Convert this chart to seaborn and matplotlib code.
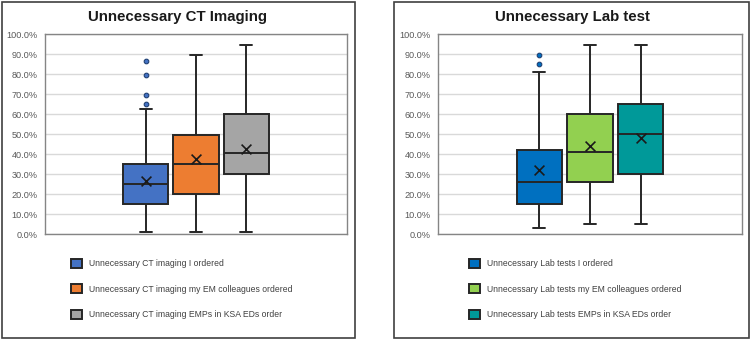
import numpy as np
import pandas as pd
import matplotlib
matplotlib.use("Agg")
import matplotlib.pyplot as plt
import seaborn as sns
from matplotlib.patches import Rectangle
from matplotlib.ticker import FuncFormatter

# ---------------- data (percent) ----------------
ct_title = "Unnecessary CT Imaging"
ct_labels = ["Unnecessary CT imaging I ordered",
             "Unnecessary CT imaging my EM colleagues ordered",
             "Unnecessary CT imaging EMPs in KSA EDs order"]
ct_min = [1, 1, 1]
ct_q1 = [15, 20, 30]
ct_median = [25, 35, 40.3]
ct_q3 = [35, 49.7, 59.8]
ct_max = [62.7, 89.5, 94.7]
ct_mean = [26.6, 37.5, 42.6]
ct_outliers = [[65, 69.5, 79.7, 86.6], [], []]
ct_colors = ["#4472C4", "#ED7D31", "#A5A5A5"]

lab_title = "Unnecessary Lab test"
lab_labels = ["Unnecessary Lab tests I ordered",
              "Unnecessary Lab tests my EM colleagues ordered",
              "Unnecessary Lab tests EMPs in KSA EDs order"]
lab_min = [2.8, 5, 5]
lab_q1 = [14.8, 26.2, 30]
lab_median = [26.2, 41.2, 50]
lab_q3 = [41.8, 60, 65.2]
lab_max = [81, 94.7, 94.7]
lab_mean = [31.8, 44.1, 48]
lab_outliers = [[84.8, 89.6], [], []]
lab_colors = ["#0070C0", "#92D050", "#009999"]

yticks = [0, 10, 20, 30, 40, 50, 60, 70, 80, 90, 100]

# ---------------- style ----------------
sns.set_style("white")
plt.rcParams["font.family"] = ["Liberation Sans", "DejaVu Sans"]

W, H = 750, 340
fig = plt.figure(figsize=(W / 100, H / 100), dpi=100)

BOX_W = 0.5
LINE = "#262626"


def panel(ax_rect, title, title_x, labels, mins, q1s, meds, q3s, maxs,
          means, outliers, colors, leg_x, frame):
    ax = fig.add_axes(ax_rect)
    rows = []
    for lab, a, b, c, d, e in zip(labels, mins, q1s, meds, q3s, maxs):
        for v in (a, b, c, d, e):
            rows.append({"grp": "", "series": lab, "value": v})
    df = pd.DataFrame(rows)
    sns.boxplot(data=df, x="grp", y="value", hue="series", hue_order=labels,
                palette=colors, saturation=1, width=BOX_W, gap=0.1,
                whis=(0, 100), showfliers=False, linecolor=LINE,
                linewidth=1.4, capwidths=0.04, ax=ax)
    n = len(labels)
    offs = (np.arange(n) - (n - 1) / 2) * BOX_W / n
    # means
    sns.scatterplot(x=offs, y=means, marker="x", s=50, color="#1a1a1a",
                    linewidth=1.2, ax=ax, legend=False, zorder=5)
    # outliers
    ox, oy = [], []
    for o, vals in zip(offs, outliers):
        for v in vals:
            ox.append(o)
            oy.append(v)
    if ox:
        sns.scatterplot(x=ox, y=oy, marker="o", s=11, color=colors[0],
                        edgecolor="#1f3f73", linewidth=0.8, ax=ax,
                        legend=False, zorder=5)
    ax.set_ylim(0, 100)
    ax.set_xlim(-0.5, 0.5)
    ax.set_yticks(yticks)
    ax.yaxis.set_major_formatter(FuncFormatter(lambda v, p: f"{v:.1f}%"))
    ax.tick_params(axis="y", length=0, pad=5.5, labelsize=6.6,
                   labelcolor="#595959")
    ax.set_xticks([])
    ax.set_xlabel("")
    ax.set_ylabel("")
    ax.grid(axis="y", color="#D9D9D9", linewidth=1.0)
    ax.set_axisbelow(True)
    for s in ax.spines.values():
        s.set_color("#858585")
        s.set_linewidth(1.0)
    sns.move_legend(ax, "upper left",
                    bbox_to_anchor=(leg_x / W, 1 - 258.5 / H),
                    bbox_transform=fig.transFigure, frameon=False, title=None,
                    fontsize=6.2, handlelength=1.3, handleheight=1.3,
                    labelspacing=1.85, handletextpad=0.75, borderpad=0,
                    borderaxespad=0, labelcolor="#404040")
    fig.text(title_x / W, 1 - 17 / H, title, ha="center", va="center",
             fontsize=10.8, fontweight="bold", color="#1a1a1a")
    x0, x1 = frame
    fig.patches.append(Rectangle((x0 / W, 2 / H), (x1 - x0) / W, (336) / H,
                                 transform=fig.transFigure, fill=False,
                                 edgecolor="#404040", linewidth=1.2))
    return ax


panel([45 / W, 1 - 234 / H, 302 / W, 200 / H], ct_title, 178,
      ct_labels, ct_min, ct_q1, ct_median, ct_q3, ct_max, ct_mean,
      ct_outliers, ct_colors, 71, (1.5, 355))
panel([438 / W, 1 - 234 / H, 304 / W, 200 / H], lab_title, 572,
      lab_labels, lab_min, lab_q1, lab_median, lab_q3, lab_max, lab_mean,
      lab_outliers, lab_colors, 469, (394, 748.5))

fig.savefig("out.png", dpi=100)
